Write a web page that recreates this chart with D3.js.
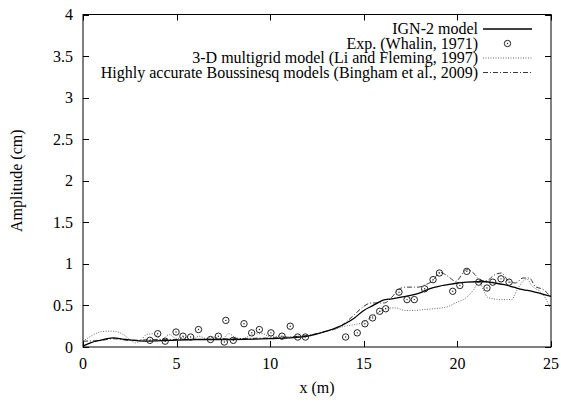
<!DOCTYPE html>
<html>
<head>
<meta charset="utf-8">
<script src="https://cdn.jsdelivr.net/npm/d3@7"></script>
<style>
  html, body { margin: 0; padding: 0; background: #fff; }
  svg { display: block; }
</style>
</head>
<body>
<svg id="chart" width="561" height="403" font-family="'Liberation Serif', 'DejaVu Serif', serif"></svg>
<script>
// ---- Data ----
const xTicks = [0, 5, 10, 15, 20, 25];
const yTicks = [0, 0.5, 1, 1.5, 2, 2.5, 3, 3.5, 4];
const yTickLabels = ["0", "0.5", "1", "1.5", "2", "2.5", "3", "3.5", "4"];

const ignX = [0, 0.4, 0.9, 1.6, 2.3, 3.4, 4.6, 6, 8, 10, 11, 12, 13, 14, 14.5, 15, 15.5, 16, 16.5, 17, 17.5, 18, 18.5, 19, 19.5, 20, 20.5, 21, 21.5, 22, 22.5, 23, 23.5, 24, 24.5, 25];
const ignY = [0.01, 0.05, 0.08, 0.11, 0.09, 0.07, 0.08, 0.09, 0.09, 0.10, 0.11, 0.13, 0.19, 0.28, 0.35, 0.44, 0.50, 0.56, 0.58, 0.60, 0.62, 0.65, 0.70, 0.73, 0.75, 0.77, 0.78, 0.785, 0.785, 0.77, 0.75, 0.72, 0.69, 0.67, 0.64, 0.61];

const expX = [3.57, 3.99, 4.39, 4.97, 5.34, 5.75, 6.17, 6.81, 7.23, 7.55, 7.63, 8.03, 8.6, 9.01, 9.42, 10.04, 10.63, 11.07, 11.47, 11.88, 14.03, 14.65, 15.06, 15.47, 15.85, 16.17, 16.88, 17.31, 17.7, 18.25, 18.7, 19.04, 19.75, 20.13, 20.5, 21.14, 21.58, 21.89, 22.33, 22.76];
const expY = [0.08, 0.16, 0.07, 0.18, 0.13, 0.12, 0.21, 0.09, 0.13, 0.06, 0.32, 0.08, 0.28, 0.17, 0.21, 0.17, 0.13, 0.25, 0.12, 0.12, 0.12, 0.17, 0.28, 0.35, 0.43, 0.46, 0.66, 0.57, 0.57, 0.70, 0.81, 0.89, 0.67, 0.74, 0.91, 0.78, 0.71, 0.78, 0.82, 0.78];

const liX = [0, 0.5, 0.9, 1.3, 1.65, 2.15, 2.5, 2.8, 3.13, 3.4, 3.8, 4.2, 4.6, 5.0, 5.4, 5.8, 6.2, 6.6, 7.0, 7.4, 7.8, 8.1, 8.5, 9.2, 9.6, 10.0, 10.5, 11, 11.5, 12, 12.5, 13, 13.5, 14, 14.5, 14.9, 15.4, 15.9, 16.3, 16.7, 17.2, 17.7, 18.2, 18.7, 19.4, 19.9, 20.5, 20.9, 21.15, 21.4, 21.6, 21.9, 22.4, 22.9, 23.15, 23.5, 23.7, 24.0, 24.4, 24.7, 24.9, 25];
const liY = [0.07, 0.14, 0.18, 0.19, 0.19, 0.15, 0.09, 0.05, 0.09, 0.15, 0.16, 0.08, 0.15, 0.10, 0.12, 0.09, 0.13, 0.10, 0.12, 0.09, 0.16, 0.12, 0.10, 0.16, 0.16, 0.12, 0.13, 0.12, 0.13, 0.13, 0.16, 0.19, 0.22, 0.25, 0.27, 0.29, 0.36, 0.43, 0.47, 0.47, 0.44, 0.44, 0.45, 0.46, 0.48, 0.53, 0.60, 0.70, 0.79, 0.68, 0.60, 0.58, 0.57, 0.57, 0.67, 0.79, 0.82, 0.73, 0.67, 0.59, 0.50, 0.46];

const binX = [0, 1, 1.6, 2.5, 4, 6, 8, 10, 11, 12, 13, 13.5, 14, 14.5, 15, 15.4, 16.1, 16.5, 16.85, 17.2, 17.9, 18.3, 18.7, 19.05, 19.5, 19.9, 20.5, 20.95, 21.2, 21.55, 22.0, 22.35, 22.75, 23.1, 23.5, 23.85, 24.15, 24.6, 25];
const binY = [0.07, 0.08, 0.10, 0.08, 0.09, 0.09, 0.10, 0.11, 0.12, 0.14, 0.19, 0.22, 0.29, 0.39, 0.49, 0.53, 0.53, 0.60, 0.69, 0.72, 0.72, 0.75, 0.80, 0.90, 0.85, 0.79, 0.93, 0.87, 0.80, 0.80, 0.87, 0.89, 0.79, 0.77, 0.83, 0.83, 0.73, 0.69, 0.60];

const legendLabels = ["IGN-2 model", "Exp. (Whalin, 1971)", "3-D multigrid model (Li and Fleming, 1997)", "Highly accurate Boussinesq models (Bingham et al., 2009)"];

// ---- Layout ----
const svg = d3.select("#chart");
const L = 83, R = 551, T = 14.5, B = 347;
const FS = 16;
const x = d3.scaleLinear().domain([0, 25]).range([L, R]);
const y = d3.scaleLinear().domain([0, 4]).range([B, T]);
const tickLen = 6;

svg.append("rect").attr("x", L).attr("y", T).attr("width", R - L).attr("height", B - T)
  .attr("fill", "none").attr("stroke", "#000").attr("stroke-width", 1);

const g = svg.append("g").attr("stroke", "#000").attr("stroke-width", 1);
xTicks.forEach(v => {
  const px = Math.round(x(v)) + 0.5;
  g.append("line").attr("x1", px).attr("x2", px).attr("y1", B).attr("y2", B - tickLen);
  g.append("line").attr("x1", px).attr("x2", px).attr("y1", T).attr("y2", T + tickLen);
});
yTicks.forEach(v => {
  const py = Math.round(y(v)) + 0.5;
  g.append("line").attr("x1", L).attr("x2", L + tickLen).attr("y1", py).attr("y2", py);
  g.append("line").attr("x1", R).attr("x2", R - tickLen).attr("y1", py).attr("y2", py);
});

svg.append("g").selectAll("text").data(xTicks).join("text")
  .attr("x", d => x(d)).attr("y", 368.5).attr("text-anchor", "middle")
  .attr("font-size", FS).text(d => d);
svg.append("g").selectAll("text").data(yTicks).join("text")
  .attr("x", 73).attr("y", d => y(d) + 5.5).attr("text-anchor", "end")
  .attr("font-size", FS).text((d, i) => yTickLabels[i]);

svg.append("text").attr("x", (L + R) / 2).attr("y", 393).attr("text-anchor", "middle")
  .attr("font-size", FS).text("x (m)");
svg.append("text").attr("transform", `translate(22,${(T + B) / 2}) rotate(-90)`)
  .attr("text-anchor", "middle").attr("font-size", FS).text("Amplitude (cm)");

const plot = svg.append("g");
const mk = (xs, ys) => xs.map((v, i) => [v, ys[i]]);
const ln = d3.line().x(d => x(d[0])).y(d => y(d[1])).curve(d3.curveMonotoneX);

plot.append("path").attr("d", ln(mk(liX, liY))).attr("fill", "none")
  .attr("stroke", "#555").attr("stroke-width", 0.9).attr("stroke-dasharray", "1,1.5");
plot.append("path").attr("d", ln(mk(binX, binY))).attr("fill", "none")
  .attr("stroke", "#222").attr("stroke-width", 0.9).attr("stroke-dasharray", "5,2,1,2");
plot.append("path").attr("d", ln(mk(ignX, ignY))).attr("fill", "none")
  .attr("stroke", "#000").attr("stroke-width", 1.3);

const pts = plot.append("g").selectAll("g").data(mk(expX, expY)).join("g")
  .attr("transform", d => `translate(${x(d[0])},${y(d[1])})`);
pts.append("circle").attr("r", 3.2).attr("fill", "none").attr("stroke", "#222").attr("stroke-width", 1);
pts.append("circle").attr("r", 0.7).attr("fill", "#222");

const legY = [29, 43.5, 58, 72.5];
const lg = svg.append("g");
legendLabels.forEach((t, i) => {
  lg.append("text").attr("x", 478).attr("y", legY[i] + 5).attr("text-anchor", "end")
    .attr("font-size", FS).text(t);
});
lg.append("line").attr("x1", 483).attr("x2", 532).attr("y1", legY[0]).attr("y2", legY[0])
  .attr("stroke", "#000").attr("stroke-width", 1.3);
const lp = lg.append("g").attr("transform", `translate(507.5,${legY[1]})`);
lp.append("circle").attr("r", 3.2).attr("fill", "none").attr("stroke", "#222").attr("stroke-width", 1);
lp.append("circle").attr("r", 0.7).attr("fill", "#222");
lg.append("line").attr("x1", 483).attr("x2", 532).attr("y1", legY[2]).attr("y2", legY[2])
  .attr("stroke", "#555").attr("stroke-width", 0.9).attr("stroke-dasharray", "1,1.5");
lg.append("line").attr("x1", 483).attr("x2", 532).attr("y1", legY[3]).attr("y2", legY[3])
  .attr("stroke", "#222").attr("stroke-width", 0.9).attr("stroke-dasharray", "5,2,1,2");
</script>
</body>
</html>
